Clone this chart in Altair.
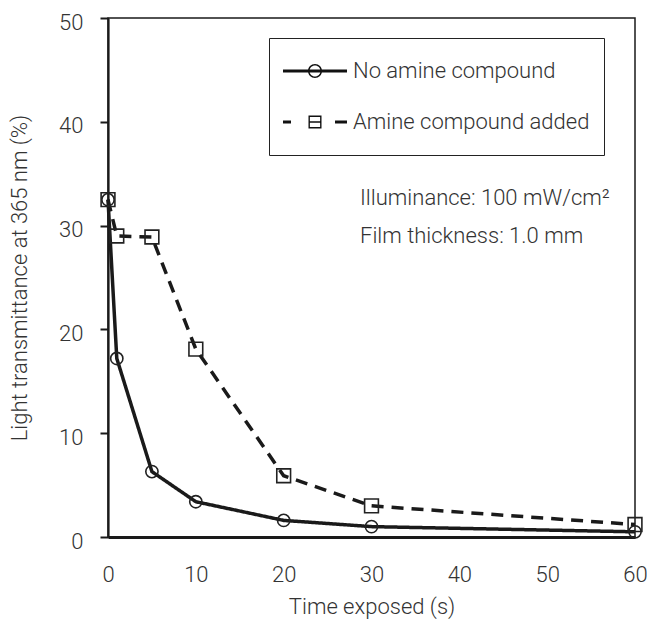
import altair as alt
import pandas as pd

# ---- data ----
time_s = [0, 1, 5, 10, 20, 30, 60]
no_amine = [32.5, 17.2, 6.3, 3.4, 1.6, 1.0, 0.5]
amine_added = [32.5, 29.0, 28.9, 18.1, 5.9, 3.0, 1.2]
series_names = ["No amine compound", "Amine compound added"]
x_ticks = [0, 10, 20, 30, 40, 50, 60]
y_ticks = [0, 10, 20, 30, 40, 50]
notes = ["Illuminance: 100 mW/cm\u00b2", "Film thickness: 1.0 mm"]
x_title = "Time exposed (s)"
y_title = "Light transmittance at 365 nm (%)"

rows = []
for name, vals in zip(series_names, [no_amine, amine_added]):
    for t, v in zip(time_s, vals):
        rows.append({"series": name, "t": t, "v": v})
df = pd.DataFrame(rows)

FONT = "Roboto"
TXT = "#333333"
INK = "#1a1a1a"
FS = 22

# custom legend symbols (line + marker), filled paths, nonzero winding
legend_circle = (
    "M-4.57,-0.23L4.57,-0.23L4.57,0.23L-4.57,0.23Z"
    "M1,0A1,1 0 1,1 -1,0A1,1 0 1,1 1,0Z"
    "M0.79,0A0.79,0.79 0 1,0 -0.79,0A0.79,0.79 0 1,0 0.79,0Z"
)
legend_square = (
    "M-4.57,-0.23L-3.43,-0.23L-3.43,0.23L-4.57,0.23Z"
    "M2.86,-0.23L4.57,-0.23L4.57,0.23L2.86,0.23Z"
    "M-0.93,-0.93L0.93,-0.93L0.93,0.93L-0.93,0.93Z"
    "M-0.73,-0.73L-0.73,0.73L0.73,0.73L0.73,-0.73Z"
    "M-0.73,-0.1L0.73,-0.1L0.73,0.1L-0.73,0.1Z"
)

x_enc = alt.X(
    "t:Q",
    scale=alt.Scale(domain=[0, 60], nice=False, zero=False),
    axis=alt.Axis(
        values=x_ticks, ticks=False, grid=False, labelFlush=False, labelOverlap=False,
        domainColor=INK, domainWidth=3,
        labelFont=FONT, labelFontSize=FS, labelFontWeight=300, labelColor=TXT, labelPadding=27,
        title=x_title, titleFont=FONT, titleFontSize=FS, titleFontWeight=300, titleColor=TXT,
        titlePadding=11,
    ),
)
y_enc = alt.Y(
    "v:Q",
    scale=alt.Scale(domain=[0, 50], nice=False),
    axis=alt.Axis(
        values=y_ticks, tickSize=8, tickWidth=2, tickColor=INK, grid=False,
        labelFlush=False, labelOverlap=False, labelOffset=4,
        domainColor=INK, domainWidth=2.2,
        labelFont=FONT, labelFontSize=FS, labelFontWeight=300, labelColor=TXT, labelPadding=17,
        title=y_title, titleFont=FONT, titleFontSize=FS, titleFontWeight=300, titleColor=TXT,
        titlePadding=27,
    ),
)

base = alt.Chart(df)

lines = base.mark_line(color=INK, strokeWidth=3.5).encode(
    x=x_enc,
    y=y_enc,
    strokeDash=alt.StrokeDash(
        "series:N",
        scale=alt.Scale(domain=series_names, range=[[1, 0], [12, 8]]),
        legend=None,
    ),
)

points = base.mark_point(filled=False, opacity=1, strokeWidth=1.6, color="#222222").encode(
    x=x_enc,
    y=y_enc,
    shape=alt.Shape("series:N", scale=alt.Scale(domain=series_names, range=["circle", "square"]), legend=None),
    size=alt.Size("series:N", scale=alt.Scale(domain=series_names, range=[150, 190]), legend=None),
)

legend_layer = base.transform_filter("false").mark_point(filled=True, opacity=1, color="#111111").encode(
    x=x_enc,
    y=y_enc,
    shape=alt.Shape(
        "series:N",
        scale=alt.Scale(domain=series_names, range=[legend_circle, legend_square]),
        legend=alt.Legend(
            title=None, orient="none", legendX=161, legendY=20,
            padding=14, strokeColor="#222222", fillColor="white",
            symbolSize=196, symbolStrokeWidth=0, symbolFillColor="#111111",
            symbolOffset=21, labelOffset=27, clipHeight=38, rowPadding=13,
            labelLimit=500,
            labelFont=FONT, labelFontSize=FS, labelFontWeight=300, labelColor=TXT,
        ),
    ),
)

note1 = alt.Chart(pd.DataFrame({"note": [notes[0]]})).mark_text(
    align="left", baseline="alphabetic", font=FONT, fontSize=FS, fontWeight=300, color=TXT
).encode(x=alt.value(252), y=alt.value(187), text="note:N")
note2 = alt.Chart(pd.DataFrame({"note": [notes[1]]})).mark_text(
    align="left", baseline="alphabetic", font=FONT, fontSize=FS, fontWeight=300, color=TXT
).encode(x=alt.value(252), y=alt.value(225), text="note:N")

chart = (
    alt.layer(lines, points, legend_layer, note1, note2)
    .resolve_scale(shape="independent", size="independent", strokeDash="independent")
    .resolve_legend(shape="independent")
    .properties(
        width=527, height=519, autosize="none",
        padding={"left": 100, "top": 10, "right": 12, "bottom": 85},
        background="white",
    )
    .configure_view(stroke=INK, strokeWidth=1.5)
)

chart.save("out.html", embed_options={"renderer": "svg", "actions": False})
